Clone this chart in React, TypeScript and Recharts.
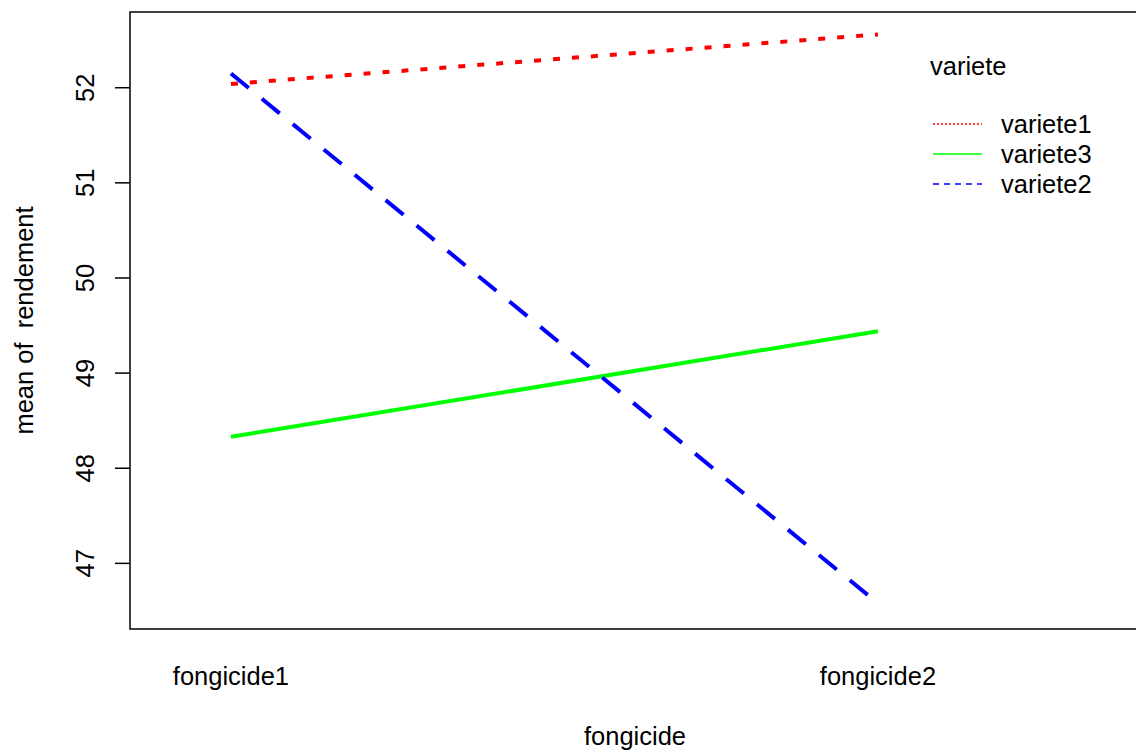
import React from "react";
import { LineChart, Line, XAxis, YAxis, ReferenceArea, Legend } from "recharts";

const categories = ["fongicide1", "fongicide2"];
const variete1 = [52.04, 52.56];
const variete3 = [48.33, 49.44];
const variete2 = [52.15, 46.58];
const yTicks = [47, 48, 49, 50, 51, 52];
const xTicks = [1, 2];

const seriesList = [
  { key: "variete1", values: variete1, color: "#FF0000", dash: "7 12", legendDash: "2 2" },
  { key: "variete3", values: variete3, color: "#00FF00", dash: undefined, legendDash: undefined },
  { key: "variete2", values: variete2, color: "#0000FF", dash: "23 17", legendDash: "6 5" },
];

const data = categories.map((c, i) => {
  const row: any = { x: i + 1, name: c };
  seriesList.forEach((s) => {
    row[s.key] = s.values[i];
  });
  return row;
});

const X_DOMAIN: [number, number] = [0.844, 2.405];
const Y_DOMAIN: [number, number] = [46.31, 52.796];
const FONT = "'Liberation Sans', Arial, sans-serif";
const FS = 25.5;

const YTick = (props: any) => {
  const { x, y, payload } = props;
  return (
    <text
      transform={`translate(${x - 19},${y}) rotate(-90)`}
      textAnchor="middle"
      fontFamily={FONT}
      fontSize={FS}
      fill="#000"
    >
      {payload.value}
    </text>
  );
};

const XTick = (props: any) => {
  const { x, y, payload } = props;
  return (
    <text x={x} y={y + 56} textAnchor="middle" fontFamily={FONT} fontSize={FS} fill="#000">
      {categories[payload.value - 1]}
    </text>
  );
};

const LegendContent = () => (
  <svg width={210} height={160} style={{ overflow: "visible" }}>
    <text x={5} y={25} fontFamily={FONT} fontSize={FS} fill="#000">
      variete
    </text>
    {seriesList.map((s, i) => (
      <g key={s.key}>
        <line
          x1={8}
          x2={57}
          y1={74 + i * 30}
          y2={74 + i * 30}
          stroke={s.color}
          strokeWidth={1.5}
          strokeDasharray={s.legendDash}
        />
        <text x={76} y={74 + i * 30 + 9} fontFamily={FONT} fontSize={FS} fill="#000">
          {s.key}
        </text>
      </g>
    ))}
  </svg>
);

export default function App() {
  return (
    <div
      style={{
        position: "absolute",
        left: 0,
        top: 0,
        width: 1136,
        height: 754,
        overflow: "hidden",
        background: "#fff",
      }}
    >
      <LineChart
        width={1145}
        height={754}
        data={data}
        margin={{ top: 12, right: 5, left: 0, bottom: 0 }}
      >
        <XAxis
          dataKey="x"
          type="number"
          domain={X_DOMAIN}
          ticks={xTicks}
          allowDataOverflow
          height={125}
          axisLine={false}
          tickLine={false}
          tickSize={0}
          tickMargin={0}
          tick={<XTick />}
          label={(p: any) => {
            const vb = p.viewBox;
            return (
              <text
                x={vb.x + vb.width / 2}
                y={745}
                textAnchor="middle"
                fontFamily={FONT}
                fontSize={FS}
                fill="#000"
              >
                fongicide
              </text>
            );
          }}
        />
        <YAxis
          type="number"
          domain={Y_DOMAIN}
          ticks={yTicks}
          allowDataOverflow
          width={130}
          axisLine={false}
          tickLine={{ stroke: "#000", strokeWidth: 1.5 }}
          tickSize={15}
          tickMargin={2}
          tick={<YTick />}
          label={(p: any) => {
            const vb = p.viewBox;
            const cy = vb.y + vb.height / 2;
            return (
              <text
                transform={`translate(33,${cy}) rotate(-90)`}
                textAnchor="middle"
                fontFamily={FONT}
                fontSize={FS}
                fill="#000"
                xmlSpace="preserve"
              >
                {"mean of  rendement"}
              </text>
            );
          }}
        />
        <ReferenceArea
          x1={X_DOMAIN[0]}
          x2={X_DOMAIN[1]}
          y1={Y_DOMAIN[0]}
          y2={Y_DOMAIN[1]}
          fill="none"
          stroke="#000"
          strokeWidth={1.5}
          ifOverflow="visible"
        />
        {seriesList.map((s) => (
          <Line
            key={s.key}
            type="linear"
            dataKey={s.key}
            stroke={s.color}
            strokeWidth={4}
            strokeDasharray={s.dash}
            dot={false}
            activeDot={false}
            isAnimationActive={false}
          />
        ))}
        <Legend
          layout="horizontal"
          verticalAlign="middle"
          align="center"
          content={<LegendContent />}
          wrapperStyle={{ left: 925, top: 50, width: 210, height: 160 }}
        />
      </LineChart>
    </div>
  );
}
